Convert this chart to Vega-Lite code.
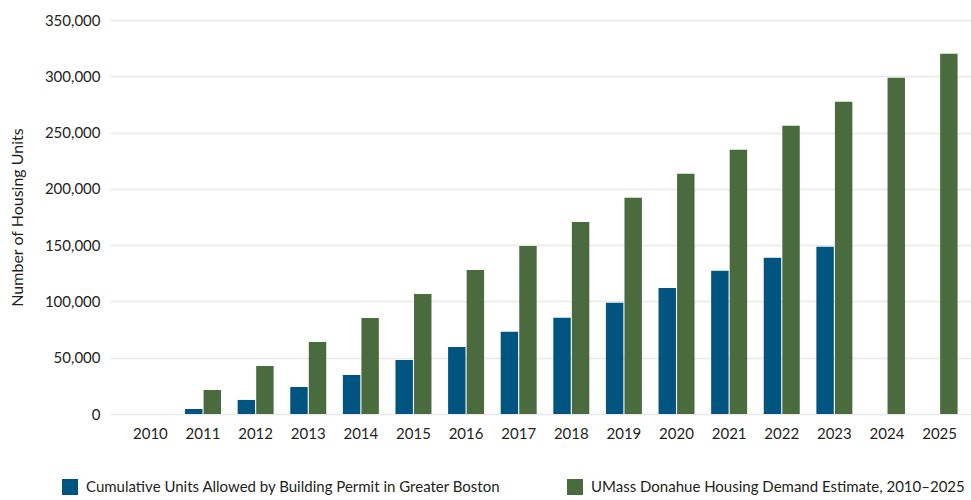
{
  "$schema": "https://vega.github.io/schema/vega-lite/v6.json",
  "width": 861,
  "height": 394,
  "autosize": {"type": "none"},
  "padding": {"left": 110, "top": 20, "right": 0, "bottom": 86},
  "background": "white",
  "config": {"view": {"stroke": null}, "font": "Lato"},
  "data": {
    "values": [
      {"year": "2010", "series": "Cumulative Units Allowed by Building Permit in Greater Boston", "units": 0},
      {"year": "2010", "series": "UMass Donahue Housing Demand Estimate, 2010–2025", "units": 0},
      {"year": "2011", "series": "Cumulative Units Allowed by Building Permit in Greater Boston", "units": 4400},
      {"year": "2011", "series": "UMass Donahue Housing Demand Estimate, 2010–2025", "units": 21333},
      {"year": "2012", "series": "Cumulative Units Allowed by Building Permit in Greater Boston", "units": 12500},
      {"year": "2012", "series": "UMass Donahue Housing Demand Estimate, 2010–2025", "units": 42667},
      {"year": "2013", "series": "Cumulative Units Allowed by Building Permit in Greater Boston", "units": 24000},
      {"year": "2013", "series": "UMass Donahue Housing Demand Estimate, 2010–2025", "units": 64000},
      {"year": "2014", "series": "Cumulative Units Allowed by Building Permit in Greater Boston", "units": 34700},
      {"year": "2014", "series": "UMass Donahue Housing Demand Estimate, 2010–2025", "units": 85333},
      {"year": "2015", "series": "Cumulative Units Allowed by Building Permit in Greater Boston", "units": 48000},
      {"year": "2015", "series": "UMass Donahue Housing Demand Estimate, 2010–2025", "units": 106667},
      {"year": "2016", "series": "Cumulative Units Allowed by Building Permit in Greater Boston", "units": 59600},
      {"year": "2016", "series": "UMass Donahue Housing Demand Estimate, 2010–2025", "units": 128000},
      {"year": "2017", "series": "Cumulative Units Allowed by Building Permit in Greater Boston", "units": 73000},
      {"year": "2017", "series": "UMass Donahue Housing Demand Estimate, 2010–2025", "units": 149333},
      {"year": "2018", "series": "Cumulative Units Allowed by Building Permit in Greater Boston", "units": 85400},
      {"year": "2018", "series": "UMass Donahue Housing Demand Estimate, 2010–2025", "units": 170667},
      {"year": "2019", "series": "Cumulative Units Allowed by Building Permit in Greater Boston", "units": 98800},
      {"year": "2019", "series": "UMass Donahue Housing Demand Estimate, 2010–2025", "units": 192000},
      {"year": "2020", "series": "Cumulative Units Allowed by Building Permit in Greater Boston", "units": 112000},
      {"year": "2020", "series": "UMass Donahue Housing Demand Estimate, 2010–2025", "units": 213333},
      {"year": "2021", "series": "Cumulative Units Allowed by Building Permit in Greater Boston", "units": 127200},
      {"year": "2021", "series": "UMass Donahue Housing Demand Estimate, 2010–2025", "units": 234667},
      {"year": "2022", "series": "Cumulative Units Allowed by Building Permit in Greater Boston", "units": 138800},
      {"year": "2022", "series": "UMass Donahue Housing Demand Estimate, 2010–2025", "units": 256000},
      {"year": "2023", "series": "Cumulative Units Allowed by Building Permit in Greater Boston", "units": 148600},
      {"year": "2023", "series": "UMass Donahue Housing Demand Estimate, 2010–2025", "units": 277333},
      {"year": "2024", "series": "UMass Donahue Housing Demand Estimate, 2010–2025", "units": 298667},
      {"year": "2025", "series": "UMass Donahue Housing Demand Estimate, 2010–2025", "units": 320000}
    ]
  },
  "mark": {"type": "bar"},
  "encoding": {
    "x": {
      "field": "year",
      "type": "nominal",
      "scale": {"paddingInner": 0.316, "paddingOuter": 0.426, "range": [0, 870]},
      "axis": {
        "title": null,
        "labelAngle": 0,
        "domain": false,
        "ticks": false,
        "grid": false,
        "labelPadding": 12,
        "labelFontSize": 15,
        "labelFont": "Lato",
        "labelColor": "#231f20"
      }
    },
    "xOffset": {
      "field": "series",
      "type": "nominal",
      "scale": {
        "domain": ["Cumulative Units Allowed by Building Permit in Greater Boston", "UMass Donahue Housing Demand Estimate, 2010–2025"],
        "paddingInner": 0.06
      }
    },
    "y": {
      "field": "units",
      "type": "quantitative",
      "scale": {"domain": [0, 350000], "nice": false},
      "axis": {
        "title": "Number of Housing Units",
        "values": [0, 50000, 100000, 150000, 200000, 250000, 300000, 350000],
        "format": ",d",
        "domain": false,
        "ticks": false,
        "grid": true,
        "gridColor": "#e8e8e8",
        "gridWidth": 1.6,
        "labelPadding": 10,
        "labelFontSize": 15,
        "labelFont": "Lato",
        "labelColor": "#231f20",
        "titleFont": "Lato",
        "titleFontSize": 16,
        "titleFontWeight": "normal",
        "titleColor": "#231f20",
        "titleAngle": -90,
        "titleX": -93,
        "titleY": 197,
        "titleAlign": "center",
        "titleBaseline": "middle"
      }
    },
    "color": {
      "field": "series",
      "type": "nominal",
      "scale": {
        "domain": ["Cumulative Units Allowed by Building Permit in Greater Boston", "UMass Donahue Housing Demand Estimate, 2010–2025"],
        "range": ["#005580", "#4a6b3e"]
      },
      "legend": {
        "title": null,
        "orient": "none",
        "direction": "horizontal",
        "legendX": -48,
        "legendY": 459,
        "symbolType": "square",
        "symbolSize": 256,
        "symbolStrokeWidth": 0,
        "symbolOpacity": 1,
        "labelFont": "Lato",
        "labelFontSize": 15,
        "labelColor": "#231f20",
        "labelLimit": 0,
        "labelOffset": 8,
        "columnPadding": 66
      }
    }
  }
}
